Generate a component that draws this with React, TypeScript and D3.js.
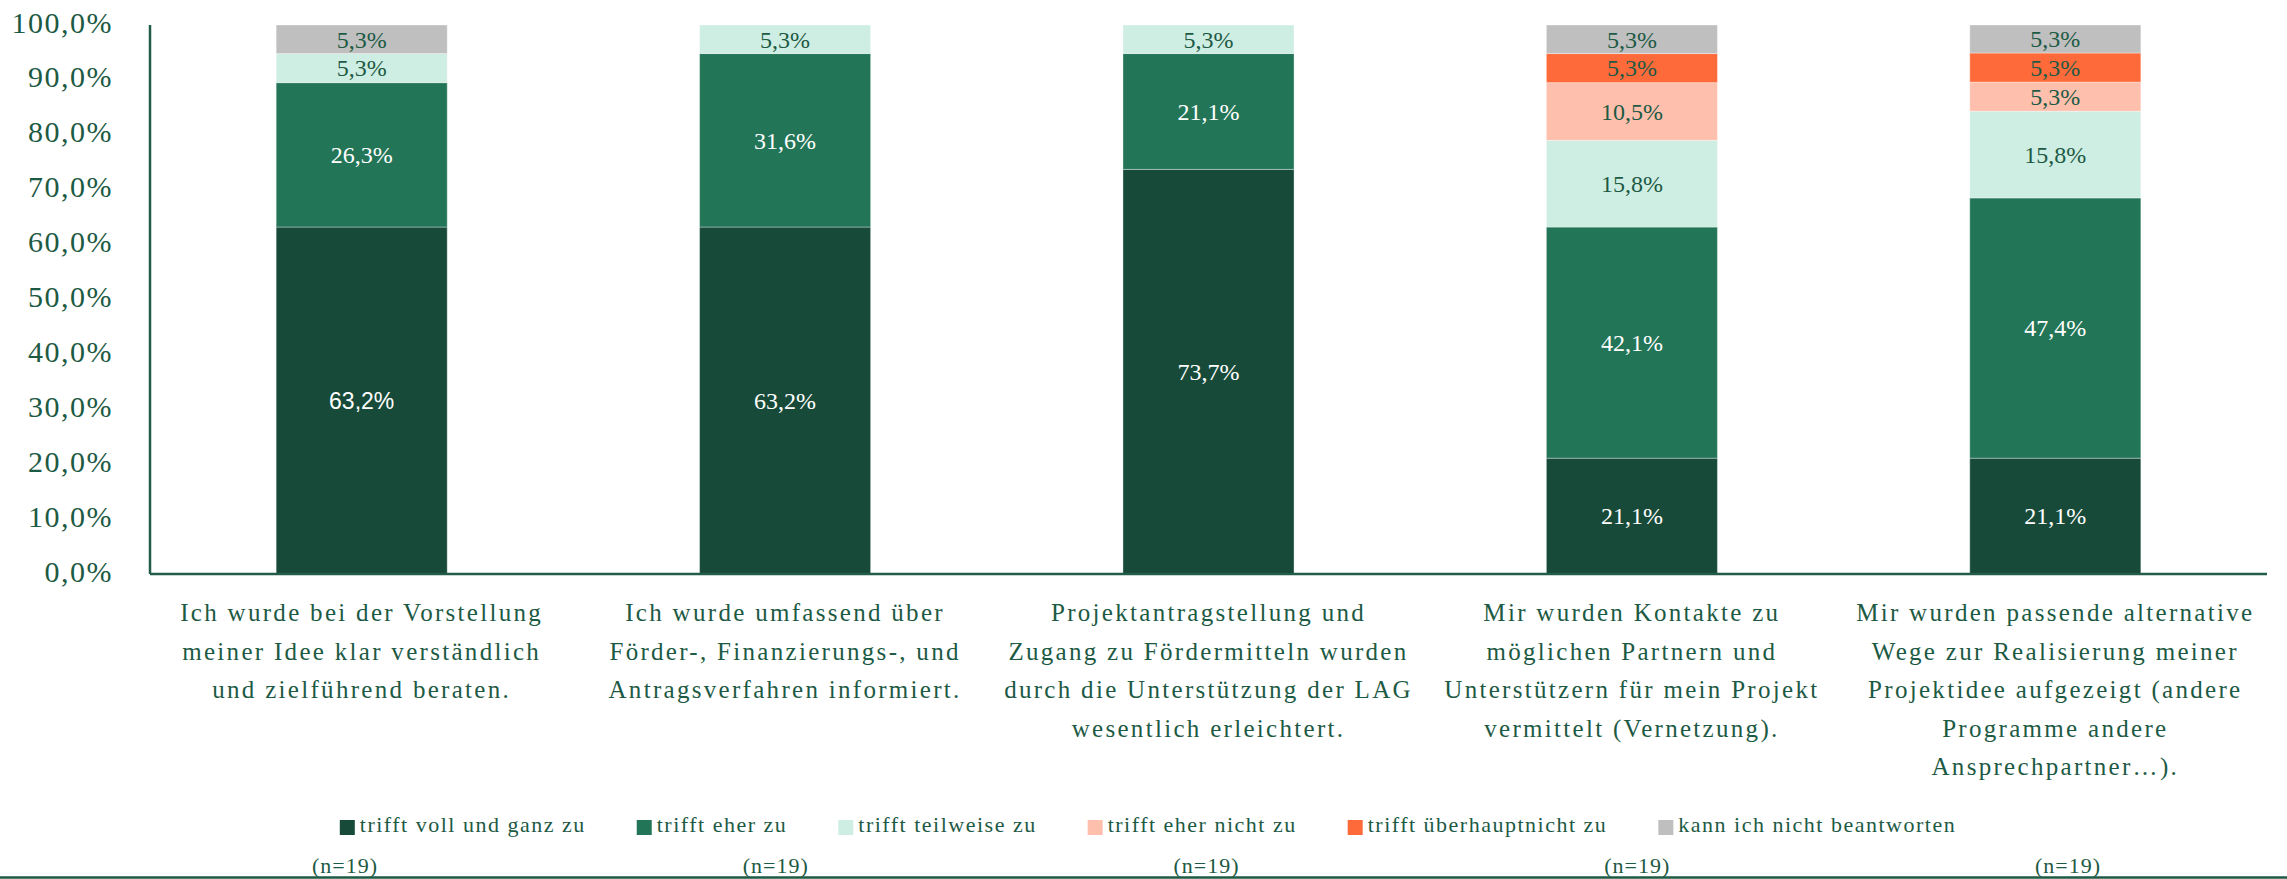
import React, { useEffect, useRef } from "react";
import * as d3 from "d3";

const categories = [
  ["Ich wurde bei der Vorstellung", "meiner Idee klar verständlich", "und zielführend beraten."],
  ["Ich wurde umfassend über", "Förder-, Finanzierungs-, und", "Antragsverfahren informiert."],
  ["Projektantragstellung und", "Zugang zu Fördermitteln wurden", "durch die Unterstützung der LAG", "wesentlich erleichtert."],
  ["Mir wurden Kontakte zu", "möglichen Partnern und", "Unterstützern für mein Projekt", "vermittelt (Vernetzung)."],
  ["Mir wurden passende alternative", "Wege zur Realisierung meiner", "Projektidee aufgezeigt (andere", "Programme andere", "Ansprechpartner…)."],
];

const seriesNames = [
  "trifft voll und ganz zu",
  "trifft eher zu",
  "trifft teilweise zu",
  "trifft eher nicht zu",
  "trifft überhauptnicht zu",
  "kann ich nicht beantworten",
];

const vollUndGanz = [63.2, 63.2, 73.7, 21.1, 21.1];
const eherZu = [26.3, 31.6, 21.1, 42.1, 47.4];
const teilweise = [5.3, 5.3, 5.3, 15.8, 15.8];
const eherNicht = [0, 0, 0, 10.5, 5.3];
const ueberhauptNicht = [0, 0, 0, 5.3, 5.3];
const kannNicht = [5.3, 0, 0, 5.3, 5.3];

const seriesValues = [vollUndGanz, eherZu, teilweise, eherNicht, ueberhauptNicht, kannNicht];
const seriesColors = ["#174a39", "#237557", "#cfeee3", "#ffbfad", "#ff6a3a", "#bfbfbf"];
const labelColors = ["#ffffff", "#ffffff", "#1d5a44", "#1d5a44", "#1d5a44", "#1d5a44"];

const yTicks = [0, 10, 20, 30, 40, 50, 60, 70, 80, 90, 100];
const nLabels = ["(n=19)", "(n=19)", "(n=19)", "(n=19)", "(n=19)"];

const W = 2287;
const H = 879;
const TEXT = "#1d5a44";
const SERIF = "'Liberation Serif', 'Times New Roman', serif";
const SANS = "'Liberation Sans', Arial, sans-serif";

const fmt = (v: number) => v.toFixed(1).replace(".", ",") + "%";

export default function App() {
  const ref = useRef<SVGSVGElement>(null);

  useEffect(() => {
    const svg = d3.select(ref.current);
    svg.selectAll("*").remove();

    const left = 150, right = 2267, top = 25, bottom = 574;
    const idx = categories.map((_, i) => String(i));
    const x = d3.scaleBand<string>().domain(idx).range([left, right]).paddingInner(0.596).paddingOuter(0.298);
    const y = d3.scaleLinear().domain([0, 100]).range([bottom, top]).clamp(true);

    const rows = idx.map((_, i) => {
      const o: any = { i };
      seriesNames.forEach((s, k) => (o[s] = seriesValues[k][i]));
      return o;
    });
    const stack = d3.stack<any>().keys(seriesNames)(rows);

    const g = svg.append("g");
    stack.forEach((layer, k) => {
      layer.forEach((d, i) => {
        const v = seriesValues[k][i];
        if (!v) return;
        const y0 = y(d[0]);
        const y1 = y(d[1]);
        g.append("rect")
          .attr("x", x(String(i))!)
          .attr("width", x.bandwidth())
          .attr("y", y1)
          .attr("height", Math.max(0, y0 - y1))
          .attr("fill", seriesColors[k])
          .attr("stroke", "rgba(255,255,255,0.35)")
          .attr("stroke-width", 1);
        const sans = k === 0 && i === 0;
        g.append("text")
          .attr("x", x(String(i))! + x.bandwidth() / 2)
          .attr("y", (y0 + y1) / 2)
          .attr("dy", "0.35em")
          .attr("text-anchor", "middle")
          .attr("font-family", sans ? SANS : SERIF)
          .attr("font-size", sans ? 23 : 24)
          .attr("fill", labelColors[k])
          .text(fmt(v));
      });
    });

    svg.append("line").attr("x1", left).attr("x2", left).attr("y1", top).attr("y2", bottom)
      .attr("stroke", "#235c47").attr("stroke-width", 2.5);
    svg.append("line").attr("x1", left).attr("x2", right).attr("y1", bottom).attr("y2", bottom)
      .attr("stroke", "#235c47").attr("stroke-width", 2.5);

    yTicks.forEach((t) => {
      svg.append("text")
        .attr("x", 113)
        .attr("y", y(t) - 3)
        .attr("dy", "0.35em")
        .attr("text-anchor", "end")
        .attr("font-family", SERIF)
        .attr("font-size", 30)
        .attr("letter-spacing", 1.5)
        .attr("fill", TEXT)
        .text(fmt(t));
    });

    categories.forEach((lines, i) => {
      const cx = x(String(i))! + x.bandwidth() / 2;
      lines.forEach((ln, j) => {
        svg.append("text")
          .attr("x", cx)
          .attr("y", 621 + j * 38.5)
          .attr("text-anchor", "middle")
          .attr("font-family", SERIF)
          .attr("font-size", 25)
          .attr("letter-spacing", 2.3)
          .attr("fill", TEXT)
          .text(ln);
      });
    });

    const lg = svg.append("g");
    const items = seriesNames.map((s, k) => {
      const it = lg.append("g");
      it.append("rect").attr("x", 0).attr("y", -12).attr("width", 15).attr("height", 15).attr("fill", seriesColors[k]);
      const t = it.append("text").attr("x", 20).attr("y", 0)
        .attr("font-family", SERIF).attr("font-size", 22).attr("letter-spacing", 1.5)
        .attr("fill", TEXT).text(s);
      const w = (t.node() as SVGTextElement).getComputedTextLength();
      return { it, w: 20 + w };
    });
    const gap = 51;
    const total = d3.sum(items, (d) => d.w) + gap * (items.length - 1);
    let cur = 1148 - total / 2;
    items.forEach((d) => {
      d.it.attr("transform", `translate(${cur},832)`);
      cur += d.w + gap;
    });

    const xn = d3.scalePoint<string>().domain(idx).range([345, 2068]);
    nLabels.forEach((n, i) => {
      svg.append("text")
        .attr("x", xn(String(i))!)
        .attr("y", 873)
        .attr("text-anchor", "middle")
        .attr("font-family", SERIF)
        .attr("font-size", 22)
        .attr("letter-spacing", 1)
        .attr("fill", TEXT)
        .text(n);
    });

    svg.append("line").attr("x1", 0).attr("x2", W).attr("y1", 877.5).attr("y2", 877.5)
      .attr("stroke", "#1d5a44").attr("stroke-width", 2.5);
  }, []);

  return (
    <svg
      ref={ref}
      width={W}
      height={H}
      style={{ position: "absolute", left: 0, top: 0, background: "#ffffff" }}
    />
  );
}
